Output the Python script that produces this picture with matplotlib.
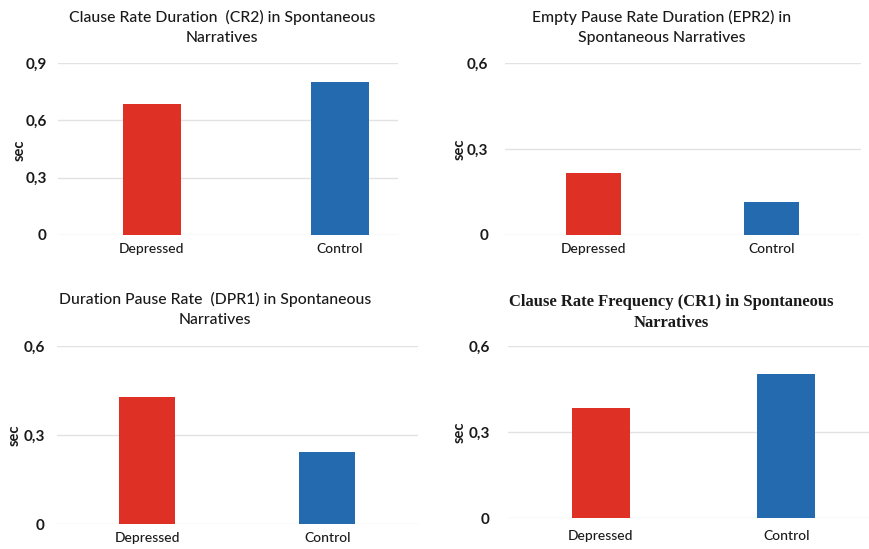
import matplotlib
matplotlib.use("Agg")
import matplotlib.pyplot as plt

# Group labels and mean values (seconds) for each speech measure
categories = ["Depressed", "Control"]
cr2_values = [0.685, 0.802]
epr2_values = [0.217, 0.115]
dpr1_values = [0.428, 0.243]
cr1_values = [0.384, 0.502]

cr2_ticks = [0, 0.3, 0.6, 0.9]
cr2_ticklabels = ["0", "0,3", "0,6", "0,9"]
short_ticks = [0, 0.3, 0.6]
short_ticklabels = ["0", "0,3", "0,6"]

titles = [
    "Clause Rate Duration  (CR2) in Spontaneous\nNarratives",
    "Empty Pause Rate Duration (EPR2) in\nSpontaneous Narratives",
    "Duration Pause Rate  (DPR1) in Spontaneous\nNarratives",
    "Clause Rate Frequency (CR1) in Spontaneous\nNarratives",
]

bar_colors = ["#de3024", "#236aaf"]
grid_color = "#e2e2e2"
text_color = "#1a1a1a"
sans = "Lato"

W, H = 869, 549
fig = plt.figure(figsize=(W / 100, H / 100), dpi=100)
fig.patch.set_facecolor("white")


def px_axes(left, right, top, bottom):
    return fig.add_axes([left / W, 1 - bottom / H, (right - left) / W, (bottom - top) / H])


def panel(rect, values, ticks, ticklabels, xmax, ylabel_x, ylabel_y, title, title_xy,
          title_font, tick_pad, cat_pad, linespacing):
    ax = px_axes(*rect)
    ax.bar(range(len(categories)), values, width=0.31, color=bar_colors, zorder=3)
    ax.set_xlim(-0.5, xmax)
    ax.set_ylim(0, ticks[-1])
    ax.set_yticks(ticks)
    ax.set_yticklabels(ticklabels, fontsize=11, fontfamily=sans, fontweight="bold",
                       color=text_color)
    ax.set_xticks(range(len(categories)))
    ax.set_xticklabels(categories, fontsize=10, fontfamily=sans, fontweight="medium",
                       color=text_color)
    ax.tick_params(axis="y", length=0, pad=tick_pad)
    ax.tick_params(axis="x", length=0, pad=cat_pad)
    for s in ax.spines.values():
        s.set_visible(False)
    ax.grid(axis="y", color=grid_color, linewidth=1.0, zorder=0)
    ax.set_axisbelow(True)
    fig.text(ylabel_x / W, 1 - ylabel_y / H, "sec", rotation=90, ha="center", va="center",
             fontsize=10.5, fontfamily=sans, fontweight="bold", color=text_color)
    fig.text(title_xy[0] / W, 1 - title_xy[1] / H, title, ha="center", va="center",
             linespacing=linespacing, color=text_color, **title_font)
    return ax


calibri_like = dict(fontsize=11.3, fontfamily=sans, fontweight="medium")
serif_title = dict(fontsize=12, fontfamily="Liberation Serif", fontweight="bold")

panel((58, 398, 63, 235), cr2_values, cr2_ticks, cr2_ticklabels, 1.31,
      20, 150, titles[0], (222, 27.5), calibri_like, 8, 6, 1.55)
panel((505, 861, 63, 235), epr2_values, short_ticks, short_ticklabels, 1.504,
      460, 149, titles[1], (662, 27.5), calibri_like, 12, 6, 1.55)
panel((57, 418, 346, 524), dpr1_values, short_ticks, short_ticklabels, 1.504,
      15, 435, titles[2], (215, 309.5), calibri_like, 9, 6, 1.55)
panel((508, 879, 346, 518), cr1_values, short_ticks, short_ticklabels, 1.5,
      460, 432, titles[3], (671, 312.5), serif_title, 13, 9, 1.4)

fig.savefig("out.png", dpi=100, facecolor="white")
